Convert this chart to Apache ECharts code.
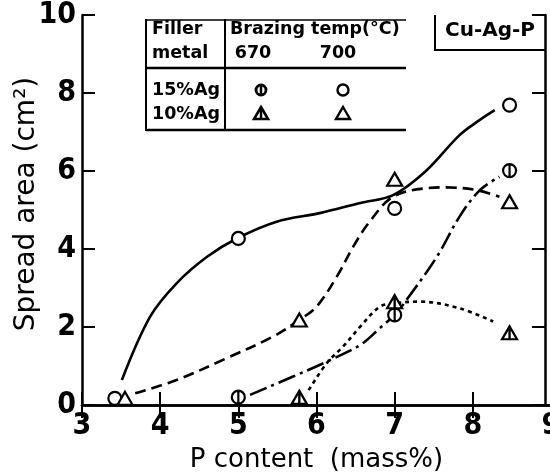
<!DOCTYPE html>
<html>
<head>
<meta charset="utf-8">
<script src="https://cdn.jsdelivr.net/npm/echarts@6/dist/echarts.min.js"></script>
<style>html,body{margin:0;padding:0;background:#fff}#c{width:550px;height:474px}</style>
</head>
<body>
<div id="c"></div>
<script>
// ---- measured points (P content mass%, spread area cm2) ----
const p15_700 = [3.42, 5.0, 7.0, 8.47];
const a15_700 = [0.17, 4.27, 5.04, 7.69];
const p15_670 = [5.0, 7.0, 8.47];
const a15_670 = [0.2, 2.31, 6.01];
const p10_700 = [3.55, 5.78, 7.0, 8.47];
const a10_700 = [0.17, 2.18, 5.79, 5.21];
const p10_670 = [5.78, 7.0, 8.47];
const a10_670 = [0.2, 2.65, 1.85];

// ---- hand-drawn trend curves ----
const c15_700x = [3.51, 3.87, 4.21, 4.6, 4.98, 5.49, 6.04, 6.56, 6.98, 7.4, 7.83, 8.09, 8.28];
const c15_700y = [0.64, 2.26, 3.12, 3.8, 4.27, 4.7, 4.92, 5.18, 5.38, 6.0, 6.92, 7.31, 7.56];
const c10_700x = [3.68, 4.21, 4.85, 5.44, 5.78, 6.0, 6.26, 6.47, 6.68, 6.98, 7.41, 7.66, 8.05, 8.34];
const c10_700y = [0.3, 0.64, 1.2, 1.75, 2.18, 2.52, 3.29, 4.06, 4.7, 5.34, 5.56, 5.58, 5.51, 5.34];
const c15_670x = [5.15, 5.7, 6.13, 6.56, 6.81, 7.0, 7.15, 7.54, 7.83, 8.09, 8.34];
const c15_670y = [0.26, 0.73, 1.11, 1.54, 1.97, 2.31, 2.69, 3.8, 4.83, 5.51, 5.85];
const c10_670x = [5.9, 6.13, 6.34, 6.56, 6.81, 7.0, 7.32, 7.83, 8.26];
const c10_670y = [0.38, 1.07, 1.5, 2.01, 2.52, 2.61, 2.65, 2.48, 2.14];

const xMin = 3, xMax = 9, xStep = 1;
const yMin = 0, yMax = 10, yStep = 2;

const zip = (xs, ys) => xs.map((x, i) => [x, ys[i]]);

const CIRCLE_BAR = 'path://M10 0A10 10 0 1 1 10 20A10 10 0 1 1 10 0ZM10 0L10 20';
const TRI = 'path://M10 0L20 17L0 17Z';
const TRI_BAR = 'path://M10 0L20 17L0 17ZM10 0L10 17';

const tickFont = "'Liberation Sans Narrow','DejaVu Sans Condensed',sans-serif";
const txtFont = "'DejaVu Sans',sans-serif";

function curve(data, dash) {
  return { type: 'line', data: data, smooth: 0.35, showSymbol: false, symbol: 'none',
    lineStyle: { color: '#000', width: 2.6, type: dash }, z: 2, silent: true };
}
function marks(data, symbol, size) {
  return { type: 'scatter', data: data, symbol: symbol, symbolSize: size,
    itemStyle: { color: '#fff', borderColor: '#000', borderWidth: 2.2, opacity: 1 }, z: 5, silent: true };
}

const axisLine = { show: true, lineStyle: { color: '#000', width: 2.5 } };
const tick = { show: true, inside: true, length: 13, lineStyle: { color: '#000', width: 2 } };

function T(text, x, y, size, align, weight) {
  return { type: 'text', x: x, y: y, z: 20,
    style: { text: text, fill: '#000', font: (weight || 'bold') + ' ' + size + 'px ' + txtFont,
      align: align || 'left', verticalAlign: 'middle' } };
}
function L(x1, y1, x2, y2, w) {
  return { type: 'line', z: 20, shape: { x1, y1, x2, y2 }, style: { stroke: '#000', lineWidth: w || 2 } };
}

const graphics = [
  // legend table
  L(146, 20, 406, 20, 1.5), L(146, 19, 146, 131, 2), L(225, 19, 225, 131, 2),
  L(146, 68, 406, 68, 2.5), L(146, 130, 406, 130, 2.5),
  T('Filler', 152, 29, 17.5), T('metal', 152, 53, 17.5),
  T('Brazing temp(°C)', 230, 29, 17.5), T('670', 253, 53, 17.5, 'center'), T('700', 338, 53, 17.5, 'center'),
  T('15%Ag', 152, 90, 17.5), T('10%Ag', 152, 114, 17.5),
  { type: 'circle', z: 20, shape: { cx: 261, cy: 90, r: 5 }, style: { fill: '#fff', stroke: '#000', lineWidth: 2.8 } },
  L(261, 85, 261, 95, 2.5),
  { type: 'circle', z: 20, shape: { cx: 343, cy: 90, r: 5.5 }, style: { fill: '#fff', stroke: '#000', lineWidth: 2.4 } },
  { type: 'polygon', z: 20, shape: { points: [[261, 107], [268, 119], [254, 119]] }, style: { fill: '#fff', stroke: '#000', lineWidth: 2.6 } },
  L(261, 108, 261, 119, 2.5),
  { type: 'polygon', z: 20, shape: { points: [[343, 107], [350, 119], [336, 119]] }, style: { fill: '#fff', stroke: '#000', lineWidth: 2.4 } },
  // Cu-Ag-P box
  L(435, 15, 435, 51, 2), L(434, 50, 546, 50, 2),
  T('Cu-Ag-P', 490, 31, 20, 'center'),
  // y axis title
  { type: 'text', x: 27, y: 204, rotation: Math.PI / 2, z: 20,
    style: { text: 'Spread area (cm²)', fill: '#000', font: 'normal 28px ' + txtFont, align: 'center', verticalAlign: 'middle' } }
];

const chart = echarts.init(document.getElementById('c'), null, { renderer: 'canvas' });
chart.setOption({
  animation: false,
  backgroundColor: '#fff',
  grid: { left: 82, right: -1, top: 15, bottom: 69, containLabel: false, outerBoundsMode: 'none' },
  xAxis: [
    { type: 'value', min: xMin, max: xMax, interval: xStep, position: 'bottom',
      axisLine: axisLine, axisTick: tick, splitLine: { show: false },
      axisLabel: { color: '#000', fontFamily: tickFont, fontWeight: 'bold', fontSize: 30, margin: 6 },
      name: 'P content  (mass%)', nameLocation: 'middle', nameGap: 42,
      nameTextStyle: { color: '#000', fontFamily: txtFont, fontSize: 26 } },
    { type: 'value', min: xMin, max: xMax, interval: xStep, position: 'top',
      axisLine: axisLine, axisTick: tick, axisLabel: { show: false }, splitLine: { show: false } }
  ],
  yAxis: [
    { type: 'value', min: yMin, max: yMax, interval: yStep, position: 'left',
      axisLine: axisLine, axisTick: tick, splitLine: { show: false },
      axisLabel: { color: '#000', fontFamily: tickFont, fontWeight: 'bold', fontSize: 30, margin: 6 } },
    { type: 'value', min: yMin, max: yMax, interval: yStep, position: 'right', offset: -6,
      axisLine: axisLine, axisTick: tick, axisLabel: { show: false }, splitLine: { show: false } }
  ],
  series: [
    curve(zip(c15_700x, c15_700y), 'solid'),
    curve(zip(c10_700x, c10_700y), [11, 6]),
    curve(zip(c15_670x, c15_670y), [18, 5, 3, 5]),
    curve(zip(c10_670x, c10_670y), [4, 4]),
    marks(zip(p15_700, a15_700), 'circle', 13),
    marks(zip(p15_670, a15_670), CIRCLE_BAR, 13),
    marks(zip(p10_700, a10_700), TRI, [15, 13]),
    marks(zip(p10_670, a10_670), TRI_BAR, [15, 13])
  ],
  graphic: graphics
});
</script>
</body>
</html>
